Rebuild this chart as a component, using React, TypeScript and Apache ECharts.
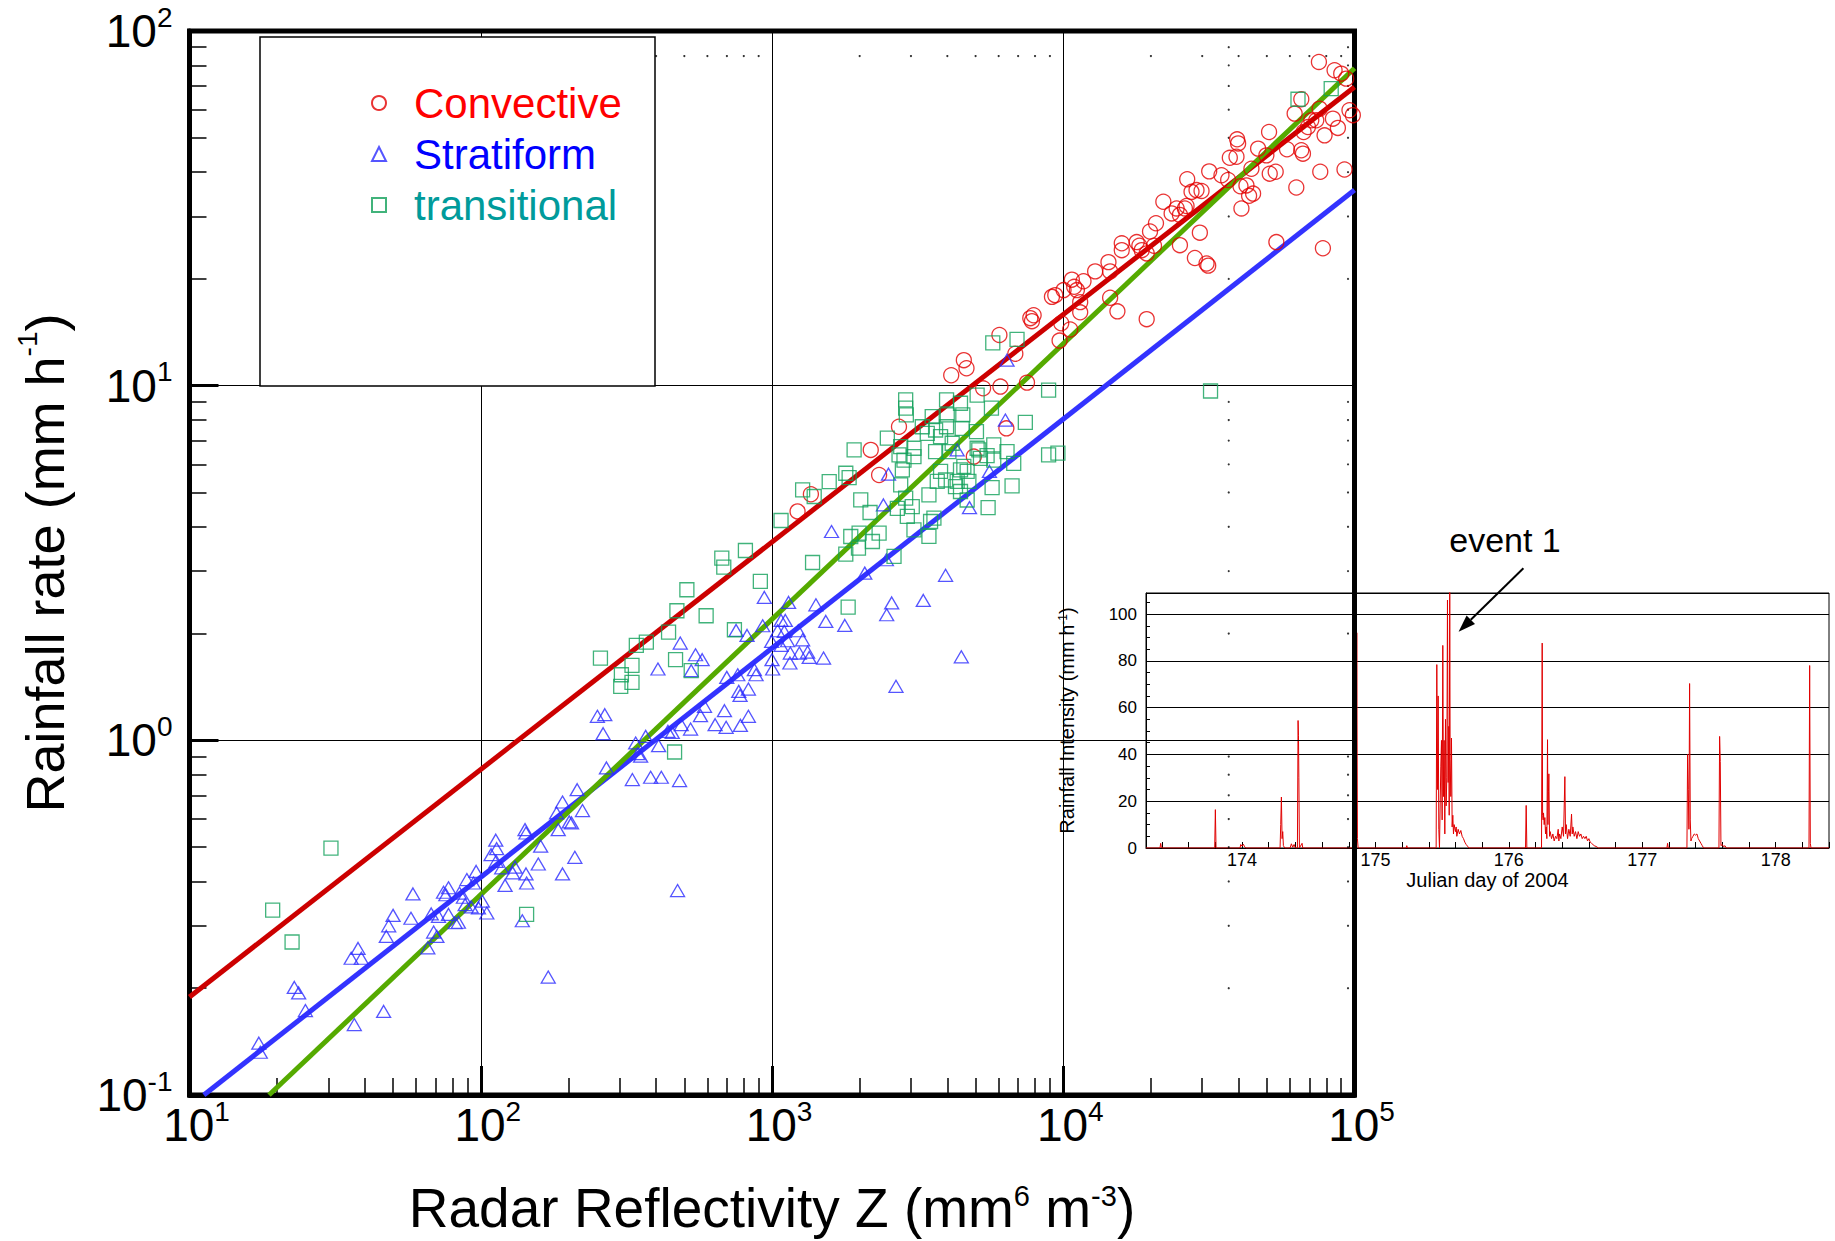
import React, { useEffect, useRef } from "react";
import * as echarts from "echarts";

// ---------- Main scatter data: [Z (mm^6 m^-3), R (mm h^-1)] ----------
const convective: [number, number][] = [
  [1224, 4.42], [1360, 4.94], [2183, 6.59], [2332, 5.6],
  [2729, 7.66], [4124, 10.7], [4557, 11.8], [4654, 11.2], [5307, 9.83], [6037, 13.9], [4931, 6.31], [6085, 9.94], [6379, 7.58],
  [7707, 15.5], [7808, 15.2], [7912, 15.8], [9145, 17.8], [9388, 18.0], [10025, 18.6], [10705, 19.9], [10904, 19.0],
  [11139, 18.6], [11737, 19.7], [11433, 17.2], [11433, 16.1], [10565, 14.4], [9714, 13.4], [9842, 15.0], [12868, 21.0],
  [14297, 22.3], [14486, 21.0], [14486, 17.7], [15346, 16.2], [15882, 25.2], [15882, 24.1], [17872, 25.4], [18254, 24.8],
  [18594, 24.1], [19341, 23.6], [19856, 27.2], [20816, 28.7], [20491, 24.8], [22063, 33.0], [23558, 30.6], [24505, 31.6],
  [26160, 31.6], [26506, 32.1], [25155, 30.3], [26646, 38.2], [27570, 35.2], [28679, 35.6], [29841, 35.4], [29447, 27.0],
  [25155, 24.9], [28314, 22.9], [31046, 22.1], [31455, 21.8], [31701, 40.2], [34937, 39.2], [36832, 38.0], [37318, 43.9],
  [39339, 44.2], [39537, 49.5], [39849, 48.2], [40590, 36.5], [42560, 36.7], [43460, 34.3], [44857, 34.8], [40908, 31.6],
  [44272, 40.9], [46667, 46.6], [49830, 44.6], [50893, 51.9], [51163, 39.6], [53631, 40.1], [53912, 25.4], [58641, 46.4],
  [63124, 36.2], [65666, 46.1], [66532, 45.1], [66884, 51.9], [69203, 53.6], [71057, 56.0], [73913, 56.0], [76283, 40.1],
  [77898, 24.4], [78929, 50.8], [84315, 56.6], [87700, 53.3], [92400, 40.7], [85430, 77.5], [90030, 75.8], [93630, 73.4],
  [75480, 81.8], [96100, 59.8], [98700, 57.9], [75880, 60.4], [62300, 58.5], [65666, 64.2], [6847, 12.3], [7508, 10.2],
  [19341, 15.4],
];

const stratiform: [number, number][] = [
  [17.3, 0.14], [17.5, 0.132], [22.9, 0.201], [23.7, 0.194], [25.0, 0.173], [36.8, 0.158], [37.9, 0.259], [35.9, 0.243],
  [38.9, 0.243], [46.4, 0.172], [47.4, 0.28], [48.3, 0.3], [50.0, 0.321], [57.6, 0.315], [58.5, 0.369], [65.8, 0.26],
  [67.6, 0.324], [68.9, 0.288], [70.7, 0.28], [71.6, 0.319], [74.5, 0.373], [77.5, 0.384], [75.9, 0.367], [77.5, 0.323],
  [81.7, 0.306], [83.8, 0.307], [84.5, 0.371], [87.2, 0.361], [88.4, 0.344], [89.6, 0.405], [92.7, 0.339], [94.4, 0.396],
  [96.4, 0.427], [98.2, 0.337], [101.3, 0.352], [104.9, 0.326], [108.5, 0.476], [112.6, 0.523], [113.4, 0.495], [112.9, 0.456],
  [118.0, 0.437], [121.2, 0.39], [128.7, 0.423], [131.1, 0.439], [141.9, 0.56], [143.0, 0.548], [143.0, 0.42], [143.7, 0.396],
  [160.6, 0.503], [157.6, 0.448], [170.5, 0.215], [182.1, 0.624], [184.5, 0.56], [190.9, 0.67], [190.9, 0.42], [201.3, 0.589],
  [205.0, 0.585], [210.4, 0.468], [214.3, 0.726], [223.5, 0.634], [138.9, 0.31], [270.1, 0.836],
  [251.5, 1.169], [266.6, 1.181], [263.1, 1.044], [405.9, 1.589], [484.1, 1.88], [546.3, 1.743], [575.8, 1.688], [528.0, 1.572],
  [340.3, 0.983], [368.3, 1.026], [354.0, 0.902], [408.0, 0.966], [439.1, 1.06], [454.4, 1.053], [487.9, 1.107], [525.3, 1.076],
  [586.4, 1.247], [568.2, 1.174], [637.8, 1.107], [686.7, 1.212], [695.8, 1.088], [778.9, 1.102], [829.7, 1.169], [699.4, 1.505],
  [762.8, 1.531], [768.8, 1.374], [776.9, 1.339], [829.7, 1.395], [870.0, 1.582], [881.5, 1.531], [941.2, 2.529], [929.0, 2.104],
  [820.9, 1.976], [752.9, 2.041], [997.3, 1.9], [1000, 1.688], [1005, 1.589], [1074, 2.178], [1111, 2.178], [1140, 2.448],
  [1102, 2.028], [1045, 2.037], [1131, 1.909], [1156, 1.762], [1152, 1.652], [1241, 1.762], [1274, 1.921], [1325, 1.774],
  [1342, 1.713], [1415, 2.411], [1530, 2.164], [1503, 1.706], [1231, 2.037], [1778, 2.109], [1601, 3.88], [2082, 2.961],
  [1074, 1.852], [331.5, 0.775], [383.1, 0.787], [416.8, 0.787], [481.5, 0.77], [346.6, 0.917],
  [2512, 5.63], [2413, 4.61], [2470, 3.23], [3944, 2.92], [3307, 2.48], [2576, 2.44], [2476, 2.26], [4323, 6.59],
  [4765, 4.53], [5579, 5.73], [6412, 11.8], [6328, 8.0], [474, 0.377], [2665, 1.42], [4467, 1.72],
];

const transitional: [number, number][] = [
  [30.6, 0.497], [19.3, 0.332], [22.5, 0.27], [143.7, 0.323],
  [257.6, 1.706], [304.0, 1.531], [330.6, 1.627], [342.1, 1.852], [370.3, 1.892], [302.4, 1.42], [330.6, 1.457], [441.4, 2.019],
  [466.5, 1.688], [471.5, 2.319], [510.2, 2.658], [528.0, 1.572], [594.1, 2.245], [672.4, 3.264], [683.0, 3.078], [810.4, 3.43],
  [912.0, 2.805], [743.0, 2.05], [462.9, 0.927], [1074, 4.167], [1274, 5.083], [1378, 3.173], [1396, 4.869], [1572, 5.365],
  [1792, 5.664], [1840, 5.507], [1914, 6.588], [2017, 4.764], [2171, 4.389], [1864, 3.756], [1981, 3.482], [1792, 3.349],
  [1991, 3.838], [2212, 3.636], [1826, 2.375],
  [5728, 13.2], [6939, 13.5], [2877, 9.12], [2877, 8.64], [2892, 8.27], [3975, 9.12], [4438, 8.92], [3549, 8.18],
  [3996, 8.27], [4520, 8.27], [5062, 9.41], [5668, 8.64], [3281, 7.66], [3645, 7.5], [3975, 7.66], [4498, 7.58],
  [5035, 7.42], [3413, 7.34], [2489, 7.11], [3791, 7.18], [4156, 6.88], [2766, 6.73], [3072, 6.66], [2730, 6.38],
  [2839, 6.17], [3072, 6.31], [3645, 6.52], [4049, 6.52], [5062, 6.66], [5773, 6.81], [6412, 6.52], [6760, 6.04],
  [6672, 5.22], [5521, 4.53], [5698, 5.16], [5129, 6.59], [5196, 6.24], [4557, 5.92], [4678, 5.73], [4323, 5.37],
  [4266, 5.19], [4438, 5.03], [4742, 5.37], [3791, 5.73], [3693, 5.37], [3458, 4.92], [2803, 5.79], [2766, 5.25],
  [2877, 4.82], [2694, 4.51], [3031, 4.56], [2915, 4.28], [3503, 4.14], [3597, 4.23], [3072, 3.92], [3458, 3.76],
  [2624, 3.3], [4678, 4.76], [5477, 6.35], [5773, 6.17], [4438, 5.79], [3944, 5.42], [2332, 3.84],
  [8906, 9.72], [7410, 7.88], [8906, 6.38], [9587, 6.45], [32040, 9.66], [63970, 64.2], [83180, 68.8],
];

// ---------- Fitted power-law lines (end points) ----------
const convectiveFit: [number, number][] = [[10, 0.189], [100000, 69.5]];
const stratiformFit: [number, number][] = [[11.2, 0.1], [100000, 35.6]];
const transitionalFit: [number, number][] = [[18.75, 0.1], [100000, 78.5]];

const seriesNames = ["Convective", "Stratiform", "transitional"];

// ---------- Dotted grid remnants ----------
const minorSteps = [2, 3, 4, 5, 6, 7, 8, 9];
const zDecades = [10, 100, 1000, 10000];
const rDecades = [0.1, 1, 10];
const dottedRowR = 85;
const dottedColumnsZ = [37000, 95000];

// ---------- Inset: rainfall intensity time series [Julian day, mm h^-1] ----------
const rainIntensity: [number, number][] = [
  [173.28, 0], [173.385, 0], [173.39, 2], [173.395, 0.5], [173.4, 0],
  [173.795, 0], [173.8, 16.4], [173.805, 0],
  [173.985, 0], [173.99, 1.5], [174.0, 0.8], [174.01, 1.6], [174.02, 0.5], [174.03, 0],
  [174.285, 0], [174.29, 10], [174.295, 21.8], [174.3, 4], [174.305, 7], [174.31, 1], [174.32, 0],
  [174.36, 0], [174.37, 1.8], [174.38, 0.3], [174.39, 1.5], [174.4, 0],
  [174.415, 0], [174.42, 54.5], [174.423, 48], [174.426, 30], [174.43, 0], [174.45, 2], [174.455, 0],
  [174.855, 0], [174.86, 92], [174.865, 4], [174.87, 0],
  [175.23, 0], [175.235, 1], [175.24, 0],
  [175.455, 0], [175.46, 78.4], [175.465, 25], [175.47, 65], [175.475, 8], [175.48, 0], [175.49, 35], [175.495, 46],
  [175.5, 12], [175.505, 86.6], [175.51, 22], [175.515, 46], [175.52, 6], [175.525, 55], [175.53, 18], [175.535, 30],
  [175.54, 106], [175.545, 28], [175.55, 52], [175.553, 14], [175.557, 110], [175.56, 38], [175.565, 22], [175.57, 47],
  [175.575, 9], [175.58, 14], [175.585, 6], [175.59, 10], [175.6, 7], [175.605, 9], [175.61, 5], [175.62, 8],
  [175.63, 6], [175.64, 7.5], [175.65, 5], [175.66, 4], [175.67, 2.5], [175.68, 1.5], [175.69, 0.8], [175.7, 0],
  [176.125, 0], [176.13, 18.2], [176.135, 0],
  [176.245, 0], [176.25, 87.6], [176.253, 14], [176.257, 12], [176.26, 15], [176.265, 10], [176.27, 13], [176.275, 6],
  [176.28, 9], [176.285, 4], [176.29, 46.3], [176.293, 10], [176.297, 24], [176.3, 31.7], [176.305, 5], [176.31, 7],
  [176.32, 4], [176.33, 6], [176.34, 3], [176.35, 5], [176.36, 4], [176.37, 8], [176.375, 3], [176.38, 6],
  [176.39, 4], [176.4, 9], [176.41, 5], [176.42, 30.5], [176.425, 6], [176.43, 10], [176.44, 4], [176.45, 8],
  [176.46, 5], [176.47, 14.5], [176.475, 6], [176.48, 9], [176.49, 5], [176.5, 7], [176.51, 4], [176.52, 7],
  [176.53, 5], [176.54, 6], [176.55, 4], [176.56, 5], [176.57, 4], [176.58, 5], [176.59, 3], [176.6, 4],
  [176.61, 2.5], [176.62, 2], [176.64, 1], [176.66, 0.5], [176.67, 0],
  [177.185, 0], [177.19, 2], [177.195, 0],
  [177.335, 0], [177.34, 40], [177.345, 25], [177.35, 8], [177.355, 70.3], [177.36, 12], [177.365, 3], [177.37, 4],
  [177.38, 5], [177.39, 6], [177.4, 5.5], [177.41, 6], [177.42, 4], [177.43, 3], [177.44, 2], [177.45, 1], [177.46, 0],
  [177.575, 0], [177.58, 47.7], [177.585, 37], [177.59, 1], [177.6, 1.5], [177.61, 0.5], [177.62, 1], [177.63, 0],
  [178.25, 0], [178.255, 78], [178.26, 2], [178.265, 0],
  [178.4, 0],
];
const dayLabels = [174, 175, 176, 177, 178];
const dayTicks = [
  173.4, 173.6, 173.8, 174.0, 174.2, 174.4, 174.6, 174.8, 175.0, 175.2, 175.4, 175.6, 175.8,
  176.0, 176.2, 176.4, 176.6, 176.8, 177.0, 177.2, 177.4, 177.6, 177.8, 178.0, 178.2, 178.4,
];

const NARROW = "'Liberation Sans Narrow', 'Arial Narrow', 'Liberation Sans', Arial, sans-serif";
const SANS = "'Liberation Sans', Arial, sans-serif";

function buildOption() {
  const dots: [number, number][] = [];
  zDecades.forEach((d) => minorSteps.forEach((s) => dots.push([d * s, dottedRowR])));
  dottedColumnsZ.forEach((z) =>
    rDecades.forEach((d) => minorSteps.forEach((s) => dots.push([z, d * s])))
  );

  const powLabel = (v: number) => "10{sup|" + Math.round(Math.log10(v)) + "}";
  const tickRich = {
    sup: { fontSize: 28, lineHeight: 28, verticalAlign: "top", fontFamily: NARROW, color: "#000" },
  };
  const mainAxisLine = { show: true, onZero: false, lineStyle: { color: "#000", width: 5 } };
  const insetAxisLine = { show: true, onZero: false, lineStyle: { color: "#000", width: 1 } };

  return {
    animation: false,
    backgroundColor: "#ffffff",
    grid: [
      {
        left: 189.5, top: 31, width: 1165, height: 1064, containLabel: false, outerBoundsMode: "none",
        show: true, borderColor: "#000", borderWidth: 5, backgroundColor: "transparent", z: 3,
      },
      {
        left: 1146, top: 593, width: 683, height: 255, containLabel: false, outerBoundsMode: "none",
        show: true, borderColor: "#000", borderWidth: 1, backgroundColor: "#ffffff", z: 1,
      },
    ],
    xAxis: [
      {
        type: "log", logBase: 10, gridIndex: 0, min: 10, max: 100000, z: 3,
        axisLine: mainAxisLine,
        axisTick: { show: true, inside: true, length: 29, lineStyle: { color: "#000", width: 3 } },
        minorTick: { show: true, splitNumber: 9, length: 17, lineStyle: { color: "#000", width: 1.5 } },
        splitLine: { show: true, lineStyle: { color: "#000", width: 1 } },
        axisLabel: {
          formatter: powLabel, margin: 2, fontSize: 46, lineHeight: 56, fontFamily: NARROW, color: "#000",
          padding: [0, 0, 0, 14], rich: tickRich,
        },
        name: "Radar Reflectivity Z (mm{sup|6} m{sup|-3})",
        nameLocation: "middle", nameGap: 86,
        nameTextStyle: {
          fontSize: 55, lineHeight: 54, fontFamily: SANS, color: "#000",
          rich: { sup: { fontSize: 29, lineHeight: 36, verticalAlign: "top", fontFamily: SANS, color: "#000" } },
        },
      },
      {
        type: "value", gridIndex: 1, min: 173.28, max: 178.4, z: 2,
        axisLine: insetAxisLine,
        axisTick: { show: true, inside: true, length: 6, customValues: dayTicks, lineStyle: { color: "#000", width: 1 } },
        axisLabel: { customValues: dayLabels, margin: 3, fontSize: 18, fontFamily: NARROW, color: "#000" },
        splitLine: { show: false },
        name: "Julian day of 2004", nameLocation: "middle", nameGap: 17,
        nameTextStyle: { fontSize: 20, fontFamily: SANS, color: "#000" },
      },
    ],
    yAxis: [
      {
        type: "log", logBase: 10, gridIndex: 0, min: 0.1, max: 100, z: 3,
        axisLine: mainAxisLine,
        axisTick: { show: true, inside: true, length: 29, lineStyle: { color: "#000", width: 3 } },
        minorTick: { show: true, splitNumber: 9, length: 17, lineStyle: { color: "#000", width: 1.5 } },
        splitLine: { show: true, lineStyle: { color: "#000", width: 1 } },
        axisLabel: {
          formatter: powLabel, margin: 17, fontSize: 46, lineHeight: 56, fontFamily: NARROW, color: "#000",
          rich: tickRich,
        },
        name: "Rainfall rate (mm h{sup|-1})",
        nameLocation: "middle", nameGap: 114, nameRotate: 90,
        nameTextStyle: {
          fontSize: 54, lineHeight: 62, fontFamily: SANS, color: "#000",
          rich: { sup: { fontSize: 28, lineHeight: 40, verticalAlign: "top", fontFamily: SANS, color: "#000" } },
        },
      },
      {
        type: "value", gridIndex: 1, min: 0, max: 109, interval: 20, z: 2,
        axisLine: insetAxisLine,
        axisTick: { show: true, inside: true, length: 6, lineStyle: { color: "#000", width: 1 } },
        minorTick: { show: true, splitNumber: 4, length: 4, lineStyle: { color: "#000", width: 1 } },
        splitLine: { show: true, lineStyle: { color: "#000", width: 1 } },
        axisLabel: { margin: 9, fontSize: 17, fontFamily: NARROW, color: "#000", showMaxLabel: false },
        name: "Rainfall Intensity (mm h{sup|-1})",
        nameLocation: "middle", nameGap: 69, nameRotate: 90,
        nameTextStyle: {
          fontSize: 20, fontFamily: SANS, color: "#000",
          rich: { sup: { fontSize: 12, lineHeight: 14, verticalAlign: "top", fontFamily: SANS, color: "#000" } },
        },
      },
    ],
    legend: {
      left: 366, top: 74, orient: "vertical", itemWidth: 14, itemHeight: 14, itemGap: 3,
      selectedMode: false, z: 6,
      textStyle: { fontSize: 42, lineHeight: 48, fontFamily: SANS, padding: [0, 0, 0, 23] },
      data: [
        { name: seriesNames[0], textStyle: { color: "#ff0000" } },
        { name: seriesNames[1], textStyle: { color: "#0000ff" } },
        { name: seriesNames[2], textStyle: { color: "#009b9b" } },
      ],
    },
    graphic: [
      {
        type: "rect", z: 5, silent: true,
        shape: { x: 260, y: 37, width: 395, height: 349 },
        style: { fill: "#ffffff", stroke: "#000", lineWidth: 1.5 },
      },
      {
        type: "text", z: 6, x: 1505, y: 540, silent: true,
        style: { text: "event 1", fontSize: 34, fontFamily: SANS, fill: "#000", textAlign: "center", textVerticalAlign: "middle" },
      },
      {
        type: "line", z: 6, silent: true,
        shape: { x1: 1523.4, y1: 568.3, x2: 1470.8, y2: 619.8 },
        style: { stroke: "#000", lineWidth: 2 },
      },
      {
        type: "polygon", z: 6, silent: true,
        shape: { points: [[1458.6, 631.7], [1475.0, 624.1], [1466.6, 615.5]] },
        style: { fill: "#000" },
      },
    ],
    series: [
      {
        type: "scatter", name: "gridDots", xAxisIndex: 0, yAxisIndex: 0, data: dots, silent: true,
        symbol: "circle", symbolSize: 2.2, itemStyle: { color: "#000" }, z: 4,
      },
      {
        type: "scatter", name: seriesNames[0], xAxisIndex: 0, yAxisIndex: 0, data: convective, silent: true,
        symbol: "circle", symbolSize: 15, z: 4,
        itemStyle: { color: "rgba(0,0,0,0)", borderColor: "#e40000", borderWidth: 1.3 },
      },
      {
        type: "scatter", name: seriesNames[1], xAxisIndex: 0, yAxisIndex: 0, data: stratiform, silent: true,
        symbol: "triangle", symbolSize: [14, 12], z: 4,
        itemStyle: { color: "rgba(0,0,0,0)", borderColor: "#2a2aff", borderWidth: 1.3 },
      },
      {
        type: "scatter", name: seriesNames[2], xAxisIndex: 0, yAxisIndex: 0, data: transitional, silent: true,
        symbol: "rect", symbolSize: 14, z: 4,
        itemStyle: { color: "rgba(0,0,0,0)", borderColor: "#12a05a", borderWidth: 1.3 },
      },
      {
        type: "line", name: "convectiveFit", xAxisIndex: 0, yAxisIndex: 0, data: convectiveFit, silent: true,
        symbol: "none", lineStyle: { color: "#cc0000", width: 5 }, z: 4,
      },
      {
        type: "line", name: "stratiformFit", xAxisIndex: 0, yAxisIndex: 0, data: stratiformFit, silent: true,
        symbol: "none", lineStyle: { color: "#3333ff", width: 5 }, z: 4,
      },
      {
        type: "line", name: "transitionalFit", xAxisIndex: 0, yAxisIndex: 0, data: transitionalFit, silent: true,
        symbol: "none", lineStyle: { color: "#55aa00", width: 5 }, z: 4,
      },
      {
        type: "line", name: "rainIntensity", xAxisIndex: 1, yAxisIndex: 1, data: rainIntensity, silent: true,
        symbol: "none", lineStyle: { color: "#e00000", width: 1 }, z: 2,
      },
    ],
  };
}

export default function App() {
  const ref = useRef<HTMLDivElement>(null);
  useEffect(() => {
    document.body.style.margin = "0";
    const chart = echarts.init(ref.current as HTMLDivElement, null, { renderer: "svg" });
    chart.setOption(buildOption() as any);
    return () => chart.dispose();
  }, []);
  return <div ref={ref} style={{ width: 1835, height: 1241, background: "#fff" }} />;
}
